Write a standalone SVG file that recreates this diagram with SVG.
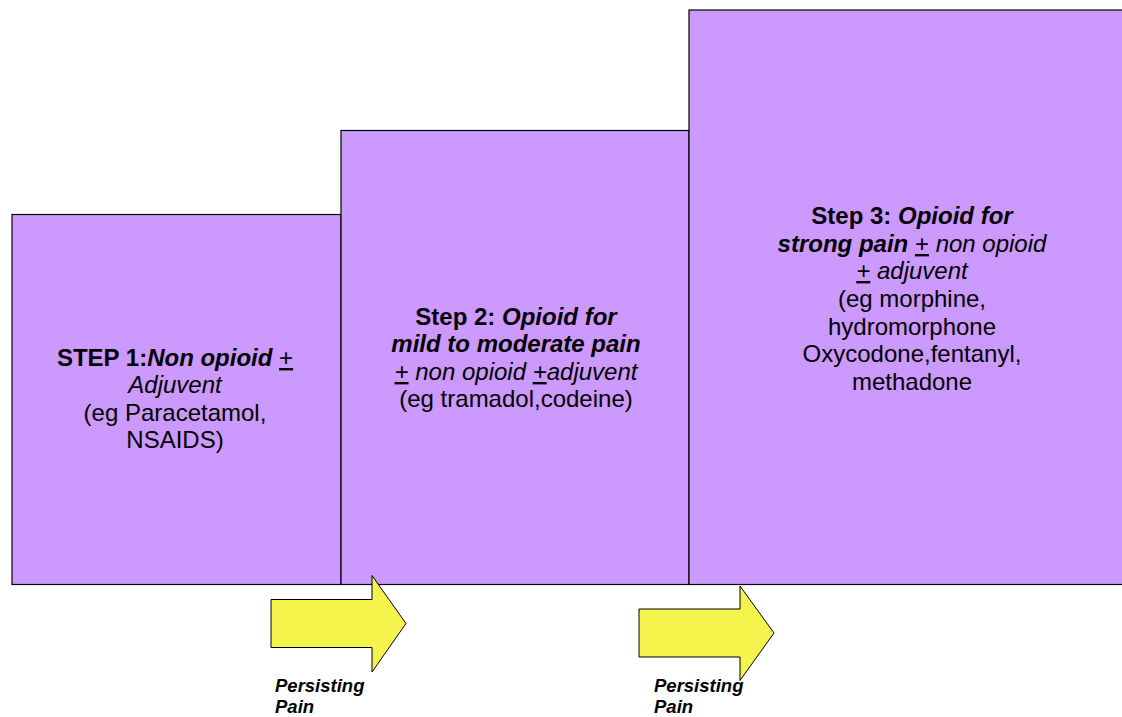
<svg xmlns="http://www.w3.org/2000/svg" width="1122" height="717" viewBox="0 0 1122 717">
<style>
.box{fill:#CC99FF;stroke:#000;stroke-width:1.2}
.arrow{fill:#F4F44C;stroke:#000;stroke-width:1}
text{font-family:"Liberation Sans",Arial,sans-serif;font-size:24px;fill:#000;text-anchor:middle}
.b{font-weight:bold}
.i{font-style:italic}
.u{text-decoration:underline}
.lbl{font-size:18.5px;font-weight:bold;font-style:italic;text-anchor:start}
</style>
<rect width="1122" height="717" fill="#fff"/>
<g id="step1">
<rect class="box" x="12" y="214.5" width="329" height="370"/>
<text x="175" y="366"><tspan class="b">STEP 1:</tspan><tspan class="b i">Non opioid</tspan> <tspan class="u">+</tspan></text>
<text x="175" y="393" class="i">Adjuvent</text>
<text x="175" y="421">(eg Paracetamol,</text>
<text x="175" y="448">NSAIDS)</text>
</g>
<g id="step2">
<rect class="box" x="341" y="130.5" width="348" height="454"/>
<text x="516" y="325"><tspan class="b">Step 2: </tspan><tspan class="b i">Opioid for</tspan></text>
<text x="516" y="352" class="b i">mild to moderate pain</text>
<text x="516" y="380" class="i"><tspan class="u">+</tspan> non opioid <tspan class="u">+</tspan>adjuvent</text>
<text x="516" y="407">(eg tramadol,codeine)</text>
</g>
<g id="step3">
<rect class="box" x="689" y="10" width="440" height="574.5"/>
<text x="912" y="224"><tspan class="b">Step 3: </tspan><tspan class="b i">Opioid for</tspan></text>
<text x="912" y="252"><tspan class="b i">strong pain</tspan> <tspan class="u">+</tspan> <tspan class="i">non opioid</tspan></text>
<text x="912" y="279" class="i"><tspan class="u">+</tspan> adjuvent</text>
<text x="912" y="307">(eg morphine,</text>
<text x="912" y="335">hydromorphone</text>
<text x="912" y="362">Oxycodone,fentanyl,</text>
<text x="912" y="390">methadone</text>
</g>
<g id="connectors">
<g id="arrow1">
<polygon class="arrow" points="271,599.5 372,599.5 372,575.5 406,623.5 372,672 372,647.5 271,647.5"/>
<text class="lbl" x="275" y="692">Persisting</text>
<text class="lbl" x="275" y="713">Pain</text>
</g>
<g id="arrow2">
<polygon class="arrow" points="639,609 740,609 740,586 774,633 740,680.5 740,657 639,657"/>
<text class="lbl" x="654" y="692">Persisting</text>
<text class="lbl" x="654" y="713">Pain</text>
</g>
</g>
</svg>
